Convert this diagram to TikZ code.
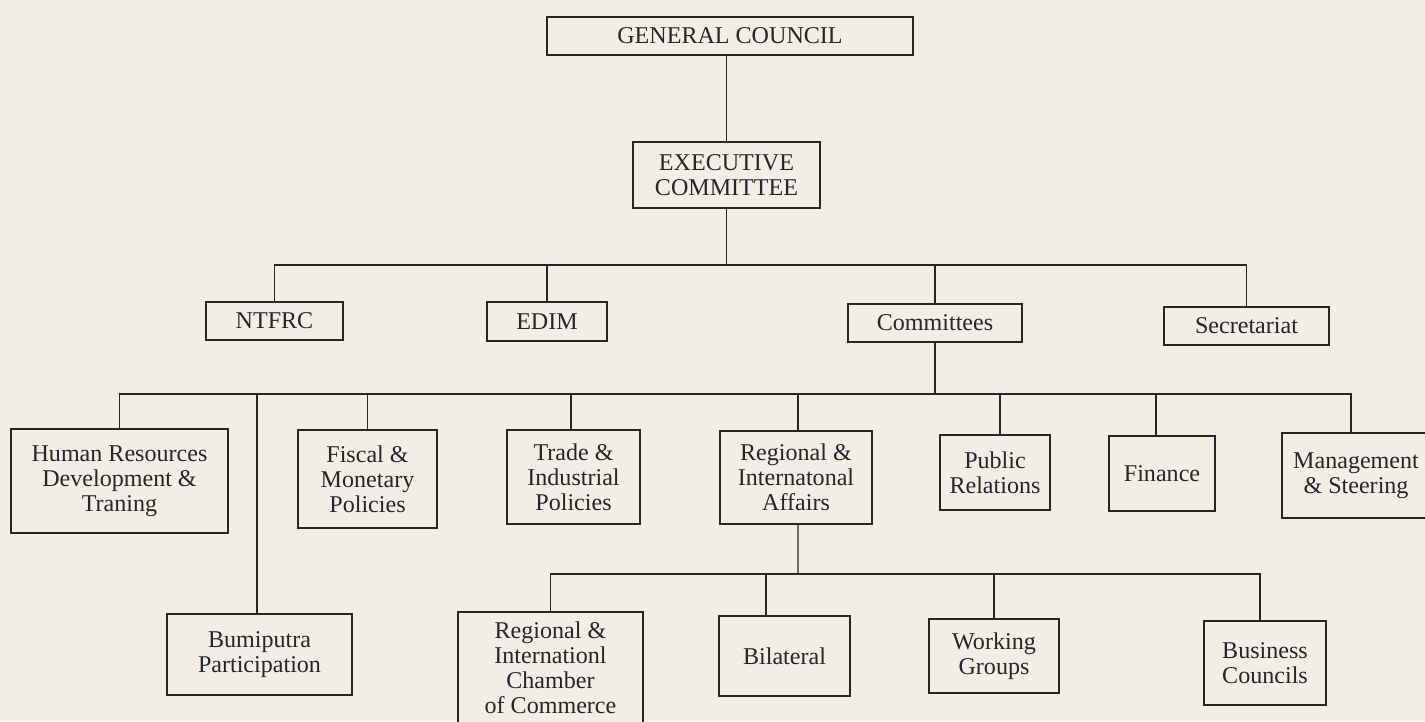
\documentclass[tikz,border=0pt]{standalone}
\usepackage{fontspec}
\setmainfont{Liberation Serif}
\usepackage{xcolor}
\definecolor{paper}{HTML}{F1EEE6}
\definecolor{ink}{HTML}{262626}

\begin{document}
\begin{tikzpicture}[x=0.02cm, y=-0.02cm,
  box/.style={draw=ink, line width=1pt, fill=paper, text=ink, align=center,
    inner sep=0pt, font=\fontsize{13.7}{14.2}\selectfont},
  link/.style={draw=ink, line width=0.8pt}]

  % Paper
  \fill[paper] (0, 0) rectangle (1425, 721);
  \useasboundingbox (0, 0) rectangle (1425, 721);

  % Council & Executive
  \node[box, minimum width=7.32cm, minimum height=0.76cm] (gc) at (730, 36) {GENERAL COUNCIL};
  \node[box, minimum width=3.74cm, minimum height=1.32cm] (ec) at (726.5, 175) {EXECUTIVE\\COMMITTEE};

  % Bodies under the Executive
  \node[box, minimum width=2.74cm, minimum height=0.76cm] (ntfrc) at (274.5, 321) {NTFRC};
  \node[box, minimum width=2.40cm, minimum height=0.78cm] (edim) at (547, 321.5) {EDIM};
  \node[box, minimum width=3.48cm, minimum height=0.76cm] (comm) at (935, 323) {Committees};
  \node[box, minimum width=3.30cm, minimum height=0.76cm] (secr) at (1246.5, 326) {Secretariat};

  % Committees
  \node[box, minimum width=4.34cm, minimum height=2.08cm] (hrd) at (119.5, 481) {Human Resources\\Development \&\\Traning};
  \node[box, minimum width=3.70cm, minimum height=1.62cm] (bumi) at (259.5, 654.5) {Bumiputra\\Participation};
  \node[box, minimum width=2.78cm, minimum height=1.96cm] (fiscal) at (367.5, 479) {Fiscal \&\\Monetary\\Policies};
  \node[box, minimum width=2.66cm, minimum height=1.88cm] (trade) at (573.5, 477) {Trade \&\\Industrial\\Policies};
  \node[box, minimum width=3.04cm, minimum height=1.86cm] (rega) at (796, 477.5) {Regional \&\\Internatonal\\Affairs};
  \node[box, minimum width=2.20cm, minimum height=1.50cm] (pubrel) at (995, 472.5) {Public\\Relations};
  \node[box, minimum width=2.12cm, minimum height=1.50cm] (fin) at (1162, 473.5) {Finance};
  \node[box, minimum width=2.96cm, minimum height=1.70cm] (mgmt) at (1356, 475.5) {Management\\\& Steering};

  % Regional & International Affairs subgroups
  \node[box, minimum width=3.70cm, minimum height=2.24cm] (ricc) at (550.5, 668) {Regional \&\\Internationl\\Chamber\\of Commerce};
  \node[box, minimum width=2.62cm, minimum height=1.60cm] (bilat) at (784.5, 656) {Bilateral};
  \node[box, minimum width=2.60cm, minimum height=1.48cm] (wgrp) at (994, 656) {Working\\Groups};
  \node[box, minimum width=2.44cm, minimum height=1.68cm] (bcoun) at (1265, 663) {Business\\Councils};

  % Bus lines
  \coordinate (bus1) at (726.5, 265);
  \coordinate (bus2) at (935, 394);
  \coordinate (bus3) at (798, 574);

  % Top links
  \draw[link] (ec.north) -- (ec.north |- gc.south);
  \draw[link] (ec.south) -- (bus1);
  \draw[link] (ntfrc.north) |- (bus1) -| (secr.north);
  \draw[link] (edim.north) -- (edim.north |- bus1);
  \draw[link] (comm.north) -- (comm.north |- bus1);

  % Committee links
  \draw[link] (comm.south) -- (bus2);
  \draw[link] (hrd.north) |- (bus2) -| ([xshift=-0.1cm]mgmt.north);
  \draw[link] ([xshift=-0.05cm]bumi.north) -- ([xshift=-0.05cm]bumi.north |- bus2);
  \draw[link] (fiscal.north) -- (fiscal.north |- bus2);
  \draw[link] ([xshift=-0.05cm]trade.north) -- ([xshift=-0.05cm]trade.north |- bus2);
  \draw[link] ([xshift=0.04cm]rega.north) -- ([xshift=0.04cm]rega.north |- bus2);
  \draw[link] ([xshift=0.1cm]pubrel.north) -- ([xshift=0.1cm]pubrel.north |- bus2);
  \draw[link] ([xshift=-0.12cm]fin.north) -- ([xshift=-0.12cm]fin.north |- bus2);

  % Subgroup links
  \draw[link] ([xshift=0.04cm]rega.south) -- (bus3);
  \draw[link] (ricc.north) |- (bus3) -| ([xshift=-0.1cm]bcoun.north);
  \draw[link] ([xshift=-0.37cm]bilat.north) -- ([xshift=-0.37cm]bilat.north |- bus3);
  \draw[link] (wgrp.north) -- (wgrp.north |- bus3);

\end{tikzpicture}
\end{document}
